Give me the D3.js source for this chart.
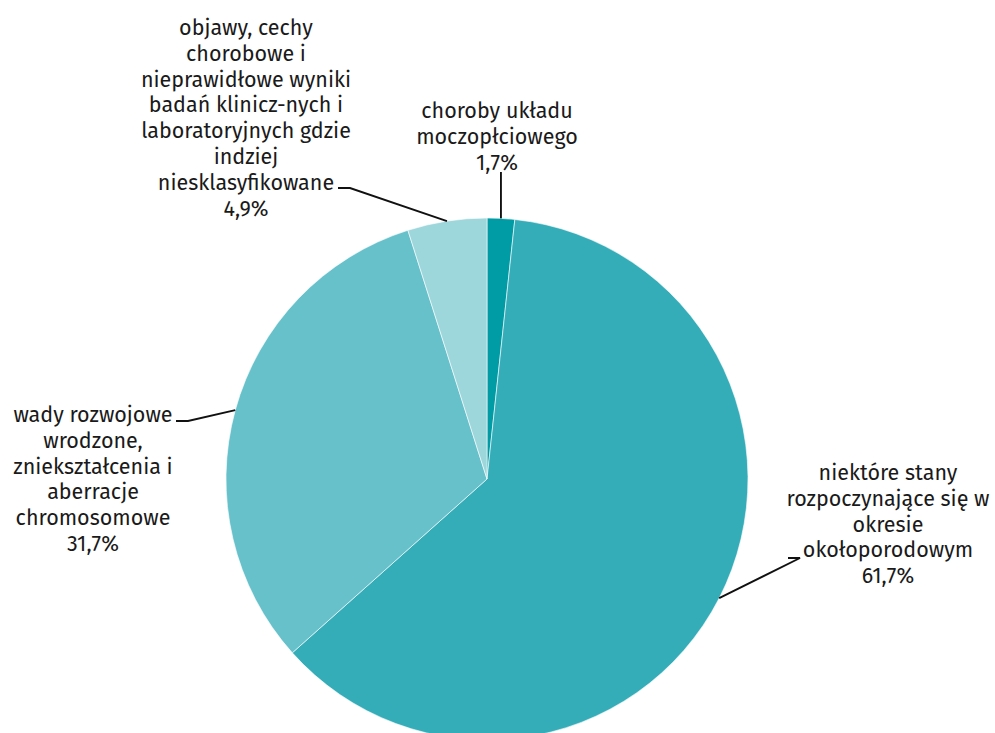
<!DOCTYPE html>
<html>
<head>
<meta charset="utf-8">
<script src="https://cdn.jsdelivr.net/npm/d3@7"></script>
<style>
  html, body { margin: 0; padding: 0; background: #fff; }
  svg { display: block; }
  text { font-family: "Fira Sans", "Noto Sans", "Open Sans", sans-serif; font-size: 21.5px; fill: #1a1a1a; }
</style>
</head>
<body>
<svg id="chart" width="995" height="733"></svg>
<script>
const categories = [
  "choroby układu moczopłciowego",
  "niektóre stany rozpoczynające się w okresie okołoporodowym",
  "wady rozwojowe wrodzone, zniekształcenia i aberracje chromosomowe",
  "objawy, cechy chorobowe i nieprawidłowe wyniki badań klinicz-nych i laboratoryjnych gdzie indziej niesklasyfikowane"
];
const values = [1.7, 61.7, 31.7, 4.9];
const valueLabels = ["1,7%", "61,7%", "31,7%", "4,9%"];
const labelLines = [
  ["choroby układu", "moczopłciowego"],
  ["niektóre stany", "rozpoczynające się w", "okresie", "okołoporodowym"],
  ["wady rozwojowe", "wrodzone,", "zniekształcenia i", "aberracje", "chromosomowe"],
  ["objawy, cechy", "chorobowe i", "nieprawidłowe wyniki", "badań klinicz-nych i", "laboratoryjnych gdzie", "indziej", "niesklasyfikowane"]
];
const colors = ["#009ca6", "#35adb8", "#66c1ca", "#9dd6db"];

// layout (label block centre x, first line y, elbow point)
const layout = [
  { cx: 497, y0: 111, elbow: null, lineEnd: [0, 172] },
  { cx: 888, y0: 473, elbow: [800, 558], hEnd: 788 },
  { cx: 93,  y0: 415, elbow: [188, 421], hEnd: 176 },
  { cx: 246, y0: 28,  elbow: [350, 188], hEnd: 338 }
];

const svg = d3.select("#chart");
const cx = 487, cy = 479, R = 261;
const lineH = 25.8;

const pie = d3.pie().sort(null).value(d => d)(values);
const arc = d3.arc().innerRadius(0).outerRadius(R);
const g = svg.append("g").attr("transform", `translate(${cx},${cy})`);

g.selectAll("path").data(pie).join("path")
  .attr("d", arc)
  .attr("fill", (d, i) => colors[i])
  .attr("stroke", "#ffffff")
  .attr("stroke-width", 0.6);

pie.forEach((d, i) => {
  const a = (d.startAngle + d.endAngle) / 2;
  const px = cx + R * Math.sin(a), py = cy - R * Math.cos(a);
  const L = layout[i];
  let pts;
  if (L.elbow) {
    pts = [[px, py], L.elbow, [L.hEnd, L.elbow[1]]];
  } else {
    pts = [[px, py], [px, L.lineEnd[1]]];
  }
  svg.append("path")
    .attr("d", d3.line()(pts))
    .attr("fill", "none")
    .attr("stroke", "#111")
    .attr("stroke-width", 1.9);

  const lines = labelLines[i].concat([valueLabels[i]]);
  const t = svg.append("text").attr("text-anchor", "middle");
  lines.forEach((s, k) => {
    t.append("tspan").attr("x", L.cx).attr("y", L.y0 + k * lineH)
      .attr("dominant-baseline", "central").text(s);
  });
});
</script>
</body>
</html>
